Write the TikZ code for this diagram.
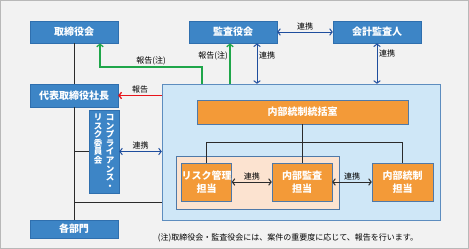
\documentclass[tikz,border=0pt]{standalone}
\usepackage{fontspec}
\setmainfont{Noto Sans CJK JP}
\usepackage{xcolor}
\usetikzlibrary{arrows.meta}

\definecolor{bgfill}{HTML}{F2F2F2}
\definecolor{bgline}{HTML}{B8B8B8}
\definecolor{boxblue}{HTML}{3D85C6}
\definecolor{boxline}{HTML}{2F6FAE}
\definecolor{orfill}{HTML}{F39A38}
\definecolor{orline}{HTML}{4F79A8}
\definecolor{skyfill}{HTML}{CFE7F7}
\definecolor{skyline}{HTML}{5D8DBF}
\definecolor{peach}{HTML}{FCE3D0}
\definecolor{renkei}{HTML}{1F4E9E}
\definecolor{hokoku}{HTML}{1FA64A}
\definecolor{hokokured}{HTML}{E8141B}
\definecolor{keisen}{HTML}{2B2B2B}

% one column of upright characters, fixed line pitch
\newcommand{\tatestack}[1]{\vtop{\baselineskip=8.6pt\lineskiplimit=-9pt\halign{\hfil##\hfil\cr#1}}}

\begin{document}
\begin{tikzpicture}[x=1pt,y=-1pt,>={Straight Barb[length=2.5pt,width=6.5pt]}]
  \tikzstyle{kaigi}=[draw=boxline,fill=boxblue,text=white,inner sep=0pt,font=\bfseries\fontsize{10}{12}\selectfont]
  \tikzstyle{tanto}=[draw=orline,fill=orfill,text=white,inner sep=0pt,align=center,font=\bfseries\fontsize{10}{12.5}\selectfont]
  \tikzstyle{lbl}=[inner sep=1.5pt,font=\fontsize{8}{9}\selectfont]
  \tikzstyle{renkeiline}=[<->,draw=renkei,line width=1pt]
  \tikzstyle{tie}=[draw=keisen,line width=1pt]

  \useasboundingbox (0,0) rectangle (469,249);
  \draw[fill=bgfill,draw=bgline,line width=1pt] (0.5,0.5) rectangle (468.5,248.5);

  % large frame for the internal control group
  \node[draw=skyline,fill=skyfill,minimum width=278pt,minimum height=136pt] (naibu) at (301,152) {};
  \node[draw=orline,fill=peach,minimum width=163pt,minimum height=53pt] (kansabu) at (257.5,182.5) {};

  \foreach \name/\x/\y/\txt in {torishimari/74/32/取締役会, kansa/233/32/監査役会, kaikei/377/32/会計監査人, shacho/74/95.5/代表取締役社長}
    \node[kaigi,minimum width=88pt,minimum height=22.5pt] (\name) at (\x,\y) {\txt};
  \node[kaigi,minimum width=88pt,minimum height=18pt] (bumon) at (74,229) {各部門};

  \node[kaigi,minimum width=30pt,minimum height=83pt,font=\bfseries\fontsize{8.5}{8.6}\selectfont] (comp) at (104,151.5)
    {\tatestack{リ\cr ス\cr ク\cr 委\cr 員\cr 会\cr}\hspace{3.5pt}\tatestack{コ\cr ン\cr プ\cr ラ\cr イ\cr ア\cr ン\cr ス\cr ・\cr}};

  \node[tanto,minimum width=211pt,minimum height=24pt] (tokatsu) at (302.5,112) {内部統制統括室};
  \foreach \name/\x/\w/\txt in {risk/206.5/49/リスク管理, audit/302/60/内部監査, control/402.5/61/内部統制}
    \node[tanto,minimum width=\w pt,minimum height=38pt] (\name) at (\x,182) {\txt\\担当};

  % organisation lines
  \draw[tie] (torishimari.south) -- (shacho.north);
  \draw[tie] (shacho.south) -- (bumon.north);
  \draw[tie] (comp.west -| shacho.south) -- (comp.west);
  \coordinate (bumonline) at (74,202);
  \draw[tie] (bumonline) -- (bumonline -| naibu.west);
  \draw[tie] (tokatsu.south -| audit.north) -- (audit.north);
  \coordinate (branch) at (302,142);
  \draw[tie] (risk.north) -- (risk.north |- branch) -- (control.north |- branch) -- (control.north);

  % cooperation
  \draw[renkeiline] (kansa.east) -- node[lbl,above] {連携} (kaikei.west);
  \draw[renkeiline] ([xshift=24pt]kansa.south) -- node[lbl,right,pos=0.3] {連携} ([xshift=24pt]kansa.south |- naibu.north);
  \draw[renkeiline] (kaikei.south) -- node[lbl,right,pos=0.25] {連携} (kaikei.south |- naibu.north);
  \draw[renkeiline] (comp.east) -- node[lbl,above] {連携} (comp.east -| naibu.west);
  \draw[<->,tie] (risk.east) -- node[lbl,above] {連携} (audit.west);
  \draw[<->,tie] (audit.east |- control.west) -- node[lbl,above] {連携} (control.west);

  % reporting
  \draw[->,draw=hokoku,line width=1.3pt] ([xshift=-3pt]kansa.south |- naibu.north) -- node[lbl,left,pos=0.7] {報告(注)} ([xshift=-3pt]kansa.south);
  \draw[->,draw=hokoku,line width=1.3pt] ([xshift=-31pt]kansa.south |- naibu.north) |- ([xshift=26pt]torishimari.south |- 0,67)
    node[lbl,above,pos=0.75] {報告(注)} -- ([xshift=26pt]torishimari.south);
  \draw[->,draw=hokokured,line width=1.3pt] (naibu.west |- shacho.east) -- node[lbl,above] {報告} (shacho.east);

  \node[font=\fontsize{8}{9}\selectfont] (chu) at (288,238) {(注)取締役会・監査役会には、案件の重要度に応じて、報告を行います。};
\end{tikzpicture}
\end{document}
